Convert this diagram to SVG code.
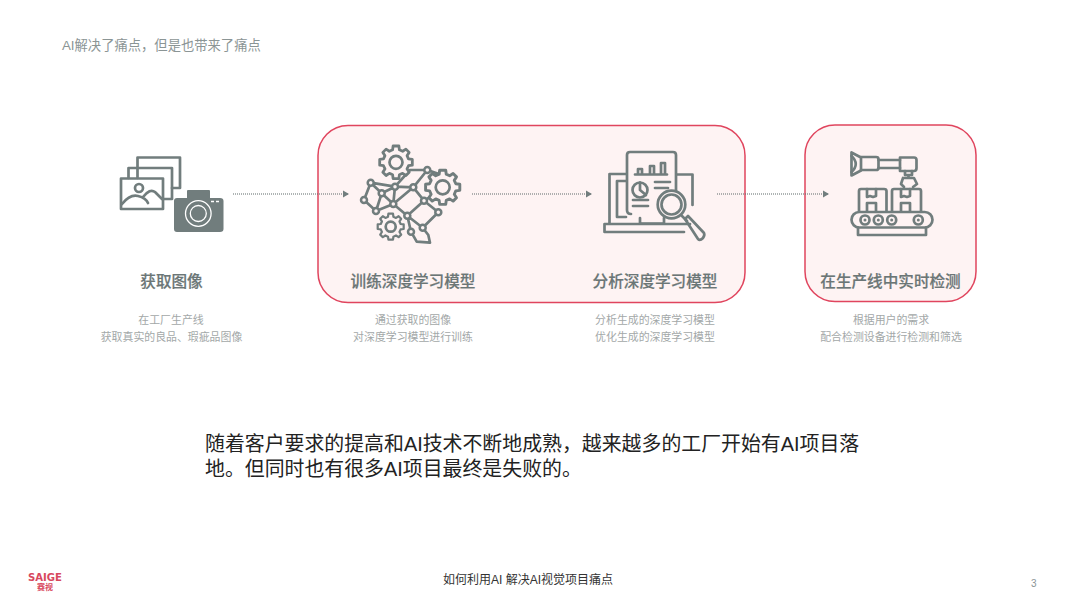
<svg xmlns="http://www.w3.org/2000/svg" width="1067" height="600" viewBox="0 0 1067 600">
<style>
text{font-family:"Liberation Sans","Noto Sans CJK SC",sans-serif}
.box{fill:#fef3f3;stroke:#e0455e;stroke-width:1.5}
.ic{fill:none;stroke:#717d7d;stroke-width:2.7;stroke-linejoin:round;stroke-linecap:round}
.sf{fill:#717d7d;stroke:none}
.h{font-size:15.6px;font-weight:500;fill:#6b7676;text-anchor:middle;stroke:#6b7676;stroke-width:.2}
.s{font-size:10.9px;fill:#a3a8a8;text-anchor:middle}
.lnk{fill:none;stroke:#5f6b6b;stroke-width:1.2;stroke-dasharray:1 1}
.n{fill:#fef3f3;stroke:#717d7d;stroke-width:2.5}
</style>
<defs>
<marker id="ah" markerUnits="userSpaceOnUse" markerWidth="7" markerHeight="8" refX="6" refY="4" orient="auto"><path d="M0 .5L6 4L0 7.5Z" fill="#717d7d"/></marker>
<polygon id="gear" points="12.13,-3.3 15.84,-2.8 15.84,2.8 12.13,3.3 10.71,6.44 12.78,9.63 9.63,12.78 6.44,10.71 3.3,12.13 2.8,15.84 -2.8,15.84 -3.3,12.13 -6.44,10.71 -9.63,12.78 -12.78,9.63 -10.71,6.44 -12.13,3.3 -15.84,2.8 -15.84,-2.8 -12.13,-3.3 -10.71,-6.44 -12.78,-9.63 -9.63,-12.78 -6.44,-10.71 -3.3,-12.13 -2.8,-15.84 2.8,-15.84 3.3,-12.13 6.44,-10.71 9.63,-12.78 12.78,-9.63 10.71,-6.44"/>
</defs>
<text id="title" x="62" y="50" font-size="13.300" fill="#8b9595">AI解决了痛点，但是也带来了痛点</text>
<rect id="group-a" class="box" x="318" y="125.500" width="427" height="177" rx="30"/>
<rect id="group-b" class="box" x="805" y="125" width="171" height="176.500" rx="30"/>
<g id="connectors">
<path class="lnk" d="M233 194H349" marker-end="url(#ah)"/>
<path class="lnk" d="M472 194H592" marker-end="url(#ah)"/>
<path class="lnk" d="M717 194H829" marker-end="url(#ah)"/>
</g>
<g id="node-acquire">
<g class="ic">
<path d="M137.500 178V157.500H180V188H172"/>
<path d="M128.500 178V168H172V199H163.500"/>
<rect x="121" y="178.500" width="42" height="30.500"/>
<circle cx="139" cy="188" r="4"/>
<path d="M122 204Q130 194 138 196T148 203M143 197Q150 188 155 192L162 199"/>
</g>
<path class="sf" d="M177 198H187V191Q187 190 188 190H209Q210 190 210 191V198H220Q223.500 198 223.500 201V229Q223.500 232 220 232H177Q174 232 174 229V201Q174 198 177 198Z"/>
<circle cx="198.300" cy="213.500" r="12.800" fill="none" stroke="#fff" stroke-width="1.300"/>
<circle cx="198.300" cy="213.500" r="8" fill="none" stroke="#fff" stroke-width="1.300"/>
<path d="M211 201.500h3M216 201.500h3" stroke="#fff" stroke-width="1.300"/>
<text class="h" x="171.500" y="287">获取图像</text>
<text class="s" x="171" y="324">在工厂生产线</text>
<text class="s" x="171.500" y="341">获取真实的良品、瑕疵品图像</text>
</g>
<g id="node-train">
<path class="ic" d="M427.300 170L413.300 187.300L395 186.700L370.700 182.700L364 200L376 211L381.700 193.300L393.300 204L376 211M370.700 182.700L381.700 193.300L395 186.700L393.300 204L413.300 187.300L424 200.700L407.300 215.700L393.300 204M395 186.700L410 170L427.300 170L442 175M424 200.700L438.300 212.300L422.700 227.700L407.300 215.700L411 231.700L416.700 241.700L430 242.700L428.300 235L422.700 227.700M424 200.700L432 196"/>
<g class="ic" style="fill:#fef3f3">
<use href="#gear" transform="translate(396 162.300) scale(1.030)"/>
<use href="#gear" transform="translate(442.700 187.300) scale(1.080)"/>
<use href="#gear" transform="translate(390.700 226.700) scale(.820)"/>
<circle cx="396" cy="162.300" r="6.500"/>
<circle cx="442.700" cy="187.300" r="7"/>
<circle cx="390.700" cy="226.700" r="5"/>
</g>
<circle class="n" cx="427.300" cy="170" r="3"/><circle class="n" cx="370.700" cy="182.700" r="3"/><circle class="n" cx="395" cy="186.700" r="3"/><circle class="n" cx="413.300" cy="187.300" r="3"/><circle class="n" cx="381.700" cy="193.300" r="3"/><circle class="n" cx="364" cy="200" r="3"/><circle class="n" cx="393.300" cy="204" r="3"/><circle class="n" cx="376" cy="211" r="3"/><circle class="n" cx="424" cy="200.700" r="3"/><circle class="n" cx="438.300" cy="212.300" r="3"/><circle class="n" cx="407.300" cy="215.700" r="3"/><circle class="n" cx="422.700" cy="227.700" r="3"/><circle class="n" cx="411" cy="231.700" r="3"/>
<text class="h" x="413" y="287">训练深度学习模型</text>
<text class="s" x="413" y="324">通过获取的图像</text>
<text class="s" x="413" y="341">对深度学习模型进行训练</text>
</g>
<g id="node-analyze">
<g class="ic">
<path d="M626 174H609.500V223.500M626 181H617V217H626"/>
<path d="M692.500 205V174.500H677M604.500 232V224H690M604.500 232H684"/>
<path d="M640 218V223.500H664V218"/>
<path d="M631 214Q627 214 627 210V155Q627 152 630 152H673Q676 152 676 155V190"/>
<path d="M635 174.500H667M638 174.500V169H642V174.500M650 174.500V166H654V174.500M661 174.500V163H665V174.500"/>
<circle cx="640" cy="190" r="7.500"/>
<path d="M640 190V182.500M640 190L646 195"/>
<path d="M655 182H670M655 188H668M633 200H648M633 206H648"/>
<circle cx="671.500" cy="204.500" r="13.800" style="fill:#fef3f3"/>
<circle cx="671.500" cy="204.500" r="10"/>
<path d="M682 216L687 221"/>
<path d="M685 219L688 216L704 233Q705 235 703 238Q700 241 698 239Z"/>
</g>
<text class="h" x="655" y="287">分析深度学习模型</text>
<text class="s" x="655" y="324">分析生成的深度学习模型</text>
<text class="s" x="655" y="341">优化生成的深度学习模型</text>
</g>
<g id="node-detect">
<g class="ic">
<path d="M851.500 152.500V175.500L861 170.500V157.500Z"/>
<path d="M851.500 156Q860 164 851.500 172"/>
<path d="M861 157H876Q878.500 157 878.500 159V168Q878.500 170 876 170H861"/>
<path d="M878.500 160H900M878.500 168H900"/>
<path d="M900 157.500H914Q916.500 157.500 916.500 160V168Q916.500 171 914 171H900Z"/>
<path d="M905 171V175H912V171M908.500 175V178M903 178H914L917 184L913 187M903 178L901 184L904 187"/>
<path d="M859 211V191Q859 189 861 189H884Q886.500 189 886.500 191V211"/>
<path d="M892 211V191Q892 189 894 189H919Q921 189 921 191V211"/>
<path d="M867 189V197L870 196L873 197L876 196V189M867 211V203H876V211"/>
<path d="M901 189V197L904 196L907 197L910 196V189M901 211V203H910V211"/>
<rect x="851.500" y="212" width="81" height="15.500" rx="7.700"/>
<circle cx="865" cy="220" r="4.500"/><circle cx="878.300" cy="220" r="4.500"/><circle cx="891.700" cy="220" r="4.500"/><circle cx="918.300" cy="220" r="4.500"/>
<path d="M858 227.500V235H926V227.500"/>
</g>
<circle class="sf" cx="865" cy="220" r="1.500"/><circle class="sf" cx="878.300" cy="220" r="1.500"/><circle class="sf" cx="891.700" cy="220" r="1.500"/><circle class="sf" cx="918.300" cy="220" r="1.500"/>
<text class="h" x="890.500" y="287">在生产线中实时检测</text>
<text class="s" x="891" y="324">根据用户的需求</text>
<text class="s" x="891" y="341">配合检测设备进行检测和筛选</text>
</g>
<text id="body" font-size="19.900" fill="#222">
<tspan x="205" y="451">随着客户要求的提高和AI技术不断地成熟，越来越多的工厂开始有AI项目落</tspan>
<tspan x="205" y="476">地。但同时也有很多AI项目最终是失败的。</tspan>
</text>
<g id="logo">
<text x="28" y="580.500" font-size="10.500" font-weight="700" fill="#d8485e" textLength="34" lengthAdjust="spacingAndGlyphs" style="font-family:'DejaVu Sans',sans-serif">SAIGE</text>
<text x="45" y="589.500" font-size="8" font-weight="700" fill="#d8485e" text-anchor="middle">赛视</text>
</g>
<text id="footer" x="443" y="584" font-size="12" fill="#333">如何利用AI 解决AI视觉项目痛点</text>
<text id="page" x="1031" y="587" font-size="10" fill="#8b9595">3</text>
</svg>
